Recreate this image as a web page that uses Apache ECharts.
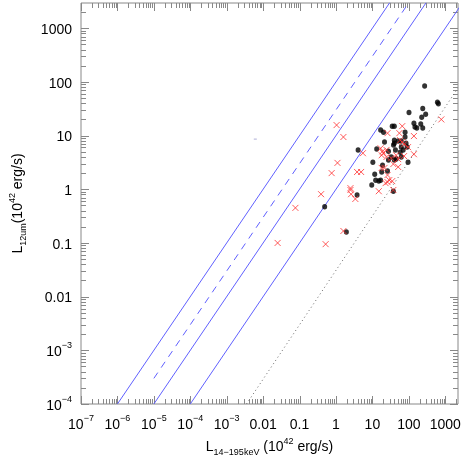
<!DOCTYPE html>
<html><head><meta charset="utf-8">
<script src="https://cdn.jsdelivr.net/npm/echarts@6/dist/echarts.min.js"></script>
<style>html,body{margin:0;padding:0;background:#fff}#c{width:464px;height:464px}</style>
</head><body><div id="c"></div>
<script>
// ---- axis ranges & tick labels ----
const xMin = 1e-7, xMax = 2240;
const yMin = 1e-4, yMax = 2950;
const xTickExp = [-7, -6, -5, -4, -3, -2, -1, 0, 1, 2, 3];
const xTickLabels = ['{b|10}{s|−7}', '{b|10}{s|−6}', '{b|10}{s|−5}', '{b|10}{s|−4}', '{b|10}{s|−3}', '{b|0.01}', '{b|0.1}', '{b|1}', '{b|10}', '{b|100}', '{b|1000}'];
const yTickExp = [-4, -3, -2, -1, 0, 1, 2, 3];
const yTickLabels = ['{b|10}{s|−4}', '{b|10}{s|−3}', '{b|0.01}', '{b|0.1}', '{b|1}', '{b|10}', '{b|100}', '{b|1000}'];
const minorMantissas = [2, 3, 4, 5, 6, 7, 8, 9];

// ---- data: black dots ----
const blackPoints = [
  [272, 84], [101, 27], [241, 32], [290, 25], [610, 42], [650, 39], [226, 22],
  [138, 17], [147, 14.4], [166, 13.8], [213, 16.4], [241, 13.8], [35, 15], [40, 15],
  [16.8, 12.7], [20.2, 11.6], [79, 11.6], [21.5, 7.6], [40, 8.2], [40, 7.2], [51, 7.9],
  [62, 7.9], [79, 9.4], [84, 7.2], [38, 6.7], [43, 5.4], [62, 6.1], [70, 5.4], [90, 6.1],
  [13.1, 5.6], [4.05, 5.4], [27.6, 5.1], [33, 4.0], [40, 3.5], [45, 3.65], [58, 4.9],
  [62, 4.0], [27.6, 3.5], [95, 3.2], [10.3, 3.2], [19, 2.8], [26, 2.2], [18, 2.1],
  [11.6, 1.9], [12.3, 1.48], [15, 1.42], [16.8, 1.48], [9.6, 1.2], [37.6, 0.92],
  [3.8, 0.78], [1.93, 0.16], [0.49, 0.47]
];
// ---- data: red crosses ----
const redPoints = [
  [780, 20], [66, 15], [26, 11.1], [55, 11.1], [138, 9.8], [58, 8.2], [66, 7.6], [74, 6.9],
  [95, 6.1], [16.8, 5.8], [19, 5.1], [20, 4.7], [24.4, 5.4], [18, 4.3], [24.4, 4.0],
  [33, 3.8], [138, 4.5], [45, 4.3], [51, 3.65], [74, 4.15], [37.6, 2.95], [51, 2.6],
  [18, 2.5], [21.5, 2.5], [26, 1.84], [23, 1.3], [26, 1.36], [29, 1.48], [35, 1.42],
  [15, 0.92], [37.6, 0.97], [1.04, 15.7], [1.6, 9.4], [1.1, 3.1], [3.8, 2.1], [4.9, 2.1],
  [2.5, 1.05], [2.5, 0.97], [2.6, 0.81], [3.4, 0.66], [5.5, 4.7], [1.6, 0.167],
  [0.025, 0.1], [0.077, 0.45], [0.39, 0.81], [0.52, 0.095], [0.76, 2.0]
];
const strayMark = [[0.0061, 8.6]];

// ---- reference lines (endpoints) ----
const lineRatio100 = [[1e-6, 1e-4], [30, 3000]];
const lineRatio10 = [[1e-5, 1e-4], [300, 3000]];
const lineRatio1 = [[1e-4, 1e-4], [3000, 3000]];
const lineDashed = [[1e-5, 3e-4], [85, 2550]];
const lineDotted = [[0.0035, 1e-4], [2240, 77]];

// ---- build tick marks ----
const tickData = [];
xTickExp.forEach(e => {
  const d = Math.pow(10, e);
  tickData.push([d, 1, 0, 1]);
  minorMantissas.forEach(m => { const v = m * d; if (v < xMax) tickData.push([v, 1, 0, 0]); });
});
yTickExp.forEach(e => {
  const d = Math.pow(10, e);
  tickData.push([1, d, 1, 1]);
  minorMantissas.forEach(m => { const v = m * d; if (v < yMax) tickData.push([1, v, 1, 0]); });
});

const F = "'Liberation Sans Narrow','Liberation Sans',Arial,sans-serif";
const labelRich = {
  b: { fontSize: 14, fontFamily: F, color: '#000', verticalAlign: 'bottom', lineHeight: 18 },
  s: { fontSize: 9, fontFamily: F, color: '#000', verticalAlign: 'top', lineHeight: 10 }
};
const nameRich = {
  n: { fontSize: 14, fontFamily: F, color: '#000', verticalAlign: 'middle', lineHeight: 20 },
  sub: { fontSize: 9, fontFamily: F, color: '#000', verticalAlign: 'bottom', lineHeight: 10 },
  sup: { fontSize: 9, fontFamily: F, color: '#000', verticalAlign: 'top', lineHeight: 10 }
};
function labelFor(exps, labels) {
  return function (v) {
    const e = Math.log10(v);
    const r = Math.round(e);
    if (Math.abs(e - r) > 1e-6) return '';
    const i = exps.indexOf(r);
    return i >= 0 ? labels[i] : '';
  };
}

const chart = echarts.init(document.getElementById('c'), null, { renderer: 'canvas' });
chart.setOption({
  animation: false,
  backgroundColor: '#fff',
  grid: { left: 73, right: 6, top: 3, bottom: 60, show: true, borderColor: '#888', borderWidth: 1, backgroundColor: 'transparent' },
  xAxis: {
    type: 'log', logBase: 10, min: xMin, max: xMax, interval: 1,
    axisLine: { show: false }, axisTick: { show: false }, splitLine: { show: false },
    axisLabel: { margin: 10, formatter: labelFor(xTickExp, xTickLabels), rich: labelRich },
    name: '{n|L}{sub|14−195keV}{n| (10}{sup|42}{n| erg/s)}',
    nameLocation: 'middle', nameGap: 32, nameTextStyle: { rich: nameRich }
  },
  yAxis: {
    type: 'log', logBase: 10, min: yMin, max: yMax, interval: 1,
    axisLine: { show: false }, axisTick: { show: false }, splitLine: { show: false },
    axisLabel: { margin: 9, formatter: labelFor(yTickExp, yTickLabels), rich: labelRich },
    name: '{n|L}{sub|12um}{n|(10}{sup|42}{n| erg/s)}',
    nameLocation: 'middle', nameGap: 53, nameTextStyle: { rich: nameRich }
  },
  series: [
    {
      type: 'custom', silent: true, data: tickData, encode: { x: 0, y: 1 }, clip: false, z: 1,
      renderItem: function (params, api) {
        const cs = params.coordSys;
        const ax = api.value(2), maj = api.value(3);
        const len = maj ? 8 : 5;
        const p = api.coord([api.value(0), api.value(1)]);
        const st = { stroke: '#888', lineWidth: 1 };
        if (ax === 0) {
          const x = Math.round(p[0]) + 0.5, b = cs.y + cs.height, t = cs.y;
          return { type: 'group', children: [
            { type: 'line', shape: { x1: x, y1: b, x2: x, y2: b - len }, style: st },
            { type: 'line', shape: { x1: x, y1: t, x2: x, y2: t + len }, style: st }
          ] };
        }
        const y = Math.round(p[1]) + 0.5, l = cs.x, r = cs.x + cs.width;
        return { type: 'group', children: [
          { type: 'line', shape: { x1: l, y1: y, x2: l + len, y2: y }, style: st },
          { type: 'line', shape: { x1: r, y1: y, x2: r - len, y2: y }, style: st }
        ] };
      }
    },
    { type: 'line', data: lineRatio100, showSymbol: false, silent: true, lineStyle: { color: '#6060ff', width: 1 } },
    { type: 'line', data: lineRatio10, showSymbol: false, silent: true, lineStyle: { color: '#6060ff', width: 1 } },
    { type: 'line', data: lineRatio1, showSymbol: false, silent: true, lineStyle: { color: '#6060ff', width: 1 } },
    { type: 'line', data: lineDashed, showSymbol: false, silent: true, lineStyle: { color: '#6060ff', width: 1, type: [7, 6] } },
    { type: 'line', data: lineDotted, showSymbol: false, silent: true, lineStyle: { color: '#666', width: 1, type: [1, 3] } },
    { type: 'scatter', data: strayMark, symbol: 'rect', symbolSize: [3, 1], silent: true, itemStyle: { color: '#9999cc' } },
    { type: 'scatter', data: blackPoints, symbol: 'circle', symbolSize: [5, 5.5], silent: true, itemStyle: { color: '#000' }, z: 3 },
    { type: 'scatter', data: redPoints, symbol: 'path://M0,0L10,10M10,0L0,10', symbolSize: 6, silent: true,
      itemStyle: { color: 'rgba(0,0,0,0)', borderColor: '#ff3030', borderWidth: 1 }, z: 4 }
  ]
});
</script></body></html>
